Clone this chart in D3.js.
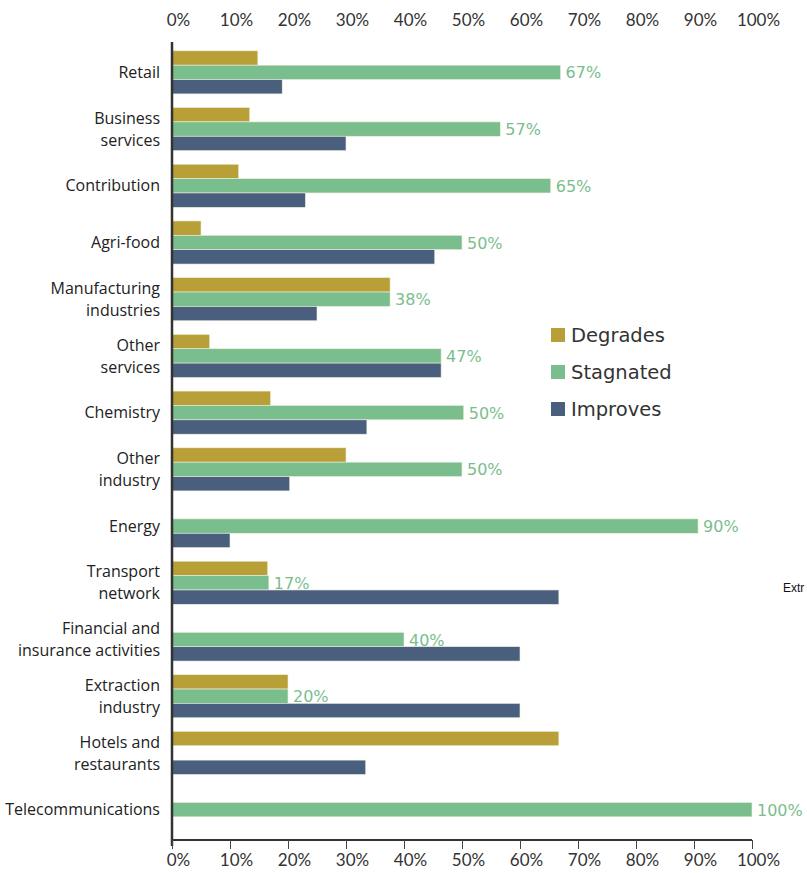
<!DOCTYPE html>
<html>
<head>
<meta charset="utf-8">
<script src="https://cdn.jsdelivr.net/npm/d3@7"></script>
<style>
body { margin: 0; background: #fff; }
svg { display: block; font-family: Lato, "Open Sans", sans-serif; }
</style>
</head>
<body>
<div id="chart-area"></div>
<script>
// data (percent)
var sectors = ["Retail", "Business services", "Contribution", "Agri-food", "Manufacturing industries",
    "Other services", "Chemistry", "Other industry", "Energy", "Transport network",
    "Financial and insurance activities", "Extraction industry", "Hotels and restaurants", "Telecommunications"];
var sectorLines = [["Retail"], ["Business", "services"], ["Contribution"], ["Agri-food"], ["Manufacturing", "industries"],
    ["Other", "services"], ["Chemistry"], ["Other", "industry"], ["Energy"], ["Transport", "network"],
    ["Financial and", "insurance activities"], ["Extraction", "industry"], ["Hotels and", "restaurants"], ["Telecommunications"]];
var degrades  = [14.8, 13.4, 11.5, 5, 37.6, 6.5, 17, 30, null, 16.5, null, 20, 66.7, null];
var stagnated = [67, 56.6, 65.3, 50, 37.6, 46.4, 50.3, 50, 90.7, 16.7, 40, 20, null, 100];
var stagnatedLabels = ["67%", "57%", "65%", "50%", "38%", "47%", "50%", "50%", "90%", "17%", "40%", "20%", null, "100%"];
var improves  = [19, 30, 23, 45.3, 25, 46.4, 33.6, 20.3, 10, 66.7, 60, 60, 33.4, null];
var seriesNames = ["Degrades", "Stagnated", "Improves"];
var seriesColors = ["#b89f37", "#7bbe8d", "#4a5f7d"];
var xTicks = [0, 10, 20, 30, 40, 50, 60, 70, 80, 90, 100];

var W = 807, H = 873;
var svg = d3.select("#chart-area").append("svg")
    .attr("width", W)
    .attr("height", H);

var x = d3.scaleLinear().domain([0, 100]).range([172, 752]);
var y0 = d3.scaleBand()
    .domain(sectors)
    .range([44, 838])
    .paddingInner(0.24)
    .paddingOuter(0.12);
var y1 = d3.scaleBand()
    .domain(seriesNames)
    .range([0, y0.bandwidth()]);

var rows = sectors.map(function (s, i) {
    return { name: s, lines: sectorLines[i], values: [degrades[i], stagnated[i], improves[i]], label: stagnatedLabels[i] };
});

// bars
var groups = svg.selectAll("g.sector")
    .data(rows)
    .enter().append("g")
    .attr("class", "sector")
    .attr("transform", (d) => "translate(0," + y0(d.name) + ")");

groups.selectAll("rect")
    .data((d) => d.values.map((v, j) => ({ key: seriesNames[j], value: v, color: seriesColors[j] }))
        .filter((e) => e.value != null))
    .enter().append("rect")
    .attr("x", x(0))
    .attr("y", (d) => y1(d.key))
    .attr("width", (d) => x(d.value) - x(0))
    .attr("height", y1.bandwidth())
    .attr("fill", (d) => d.color)
    .attr("stroke", "#eeeede")
    .attr("stroke-width", 0.6);

// stagnated value labels
groups.filter((d) => d.label != null)
    .append("text")
    .attr("x", (d) => x(d.values[1]) + 5)
    .attr("y", y1("Stagnated") + y1.bandwidth() / 2)
    .attr("dy", "0.38em")
    .attr("fill", "#7bbe8d")
    .attr("font-size", "16px")
    .attr("font-family", "'DejaVu Sans', sans-serif")
    .text((d) => d.label);

// category labels
var labels = svg.selectAll("text.cat")
    .data(rows)
    .enter().append("text")
    .attr("class", "cat")
    .attr("x", 160)
    .attr("text-anchor", "end")
    .attr("font-size", "16px")
    .attr("font-weight", 500)
    .attr("fill", "#222")
    .attr("font-family", "'Open Sans', sans-serif");
labels.each(function (d) {
    var t = d3.select(this);
    var cy = y0(d.name) + y0.bandwidth() / 2;
    var n = d.lines.length;
    d.lines.forEach(function (line, k) {
        t.append("tspan")
            .attr("x", 160)
            .attr("y", cy + (k - (n - 1) / 2) * 22)
            .attr("dy", "0.35em")
            .text(line);
    });
});

// axes
var axisColor = "#333";
svg.append("line")
    .attr("x1", x(0)).attr("x2", x(0))
    .attr("y1", 42).attr("y2", 846)
    .attr("stroke", axisColor)
    .attr("stroke-width", 2.5);

var xAxis = d3.axisBottom(x)
    .tickValues(xTicks)
    .tickSize(9)
    .tickFormat((d) => d + "%");
var gx = svg.append("g")
    .attr("transform", "translate(0,840)")
    .call(xAxis);
gx.select(".domain").attr("stroke", axisColor).attr("stroke-width", 2.2).attr("d", "M" + x(0) + ",0H" + x(100));
gx.selectAll(".tick line").attr("stroke", "#444").attr("stroke-width", 1);
gx.selectAll(".tick text")
    .attr("x", 6)
    .attr("y", 14)
    .attr("font-size", "17px")
    .attr("fill", "#333")
    .attr("font-family", "Lato, sans-serif");

var xTop = d3.axisTop(x)
    .tickValues(xTicks)
    .tickSize(0)
    .tickFormat((d) => d + "%");
var gt = svg.append("g")
    .attr("transform", "translate(0,26)")
    .call(xTop);
gt.select(".domain").remove();
gt.selectAll(".tick text")
    .attr("x", 6)
    .attr("y", 0)
    .attr("font-size", "17px")
    .attr("fill", "#333")
    .attr("font-family", "Lato, sans-serif");

// legend
var legend = svg.selectAll("g.legend")
    .data(seriesNames)
    .enter().append("g")
    .attr("class", "legend")
    .attr("transform", (d, i) => "translate(551," + (328 + i * 37) + ")");
legend.append("rect")
    .attr("width", 14)
    .attr("height", 14)
    .attr("fill", (d, i) => seriesColors[i]);
legend.append("text")
    .attr("x", 20)
    .attr("y", 7)
    .attr("dy", "0.36em")
    .attr("font-size", "19.5px")
    .attr("fill", "#333")
    .attr("font-family", "'DejaVu Sans', sans-serif")
    .text((d) => d);

// clipped annotation at the right edge, as in the source
svg.append("text")
    .attr("x", 783)
    .attr("y", 592)
    .attr("font-size", "12px")
    .attr("fill", "#111")
    .attr("font-family", "'Liberation Sans', Arial, sans-serif")
    .text("Extr");
</script>
</body>
</html>
